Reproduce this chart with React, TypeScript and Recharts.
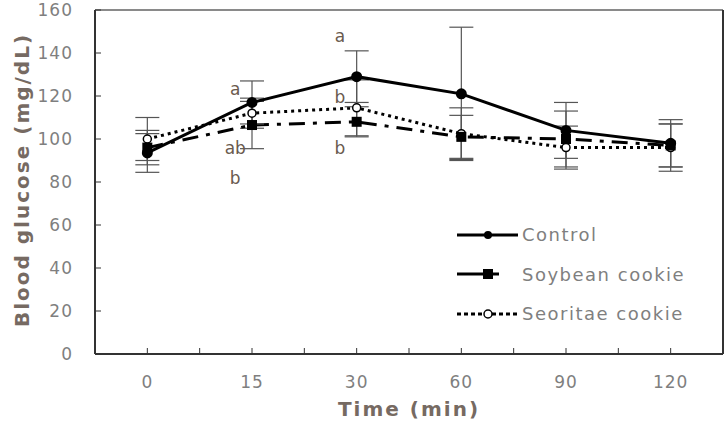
import React from "react"
import { LineChart, Line, XAxis, YAxis, ErrorBar, ReferenceLine, ReferenceDot } from "recharts"

const times = ["0", "15", "30", "60", "90", "120"]
const control = [93.5, 117, 129, 121, 104, 98]
const controlErr = [9, 10, 12, 31, 13, 11]
const soybean = [96, 106.5, 108, 101, 100, 97]
const soybeanErr = [8, 11, 7, 10, 13, 10]
const seoritae = [100, 112, 114.5, 102.5, 96, 96]
const seoritaeErr = [10, 7, 13, 12, 10, 11]
const yTicks = [0, 20, 40, 60, 80, 100, 120, 140, 160]

// significance letters: category index, value position, text
const letters = [
  { idx: 1, y: 123.5, text: "a" },
  { idx: 1, y: 96, text: "ab" },
  { idx: 1, y: 82, text: "b" },
  { idx: 2, y: 148, text: "a" },
  { idx: 2, y: 119.5, text: "b" },
  { idx: 2, y: 96, text: "b" },
]

const data = times.map((t, i) => ({
  x: i,
  time: t,
  control: control[i],
  controlErr: controlErr[i],
  soybean: soybean[i],
  soybeanErr: soybeanErr[i],
  seoritae: seoritae[i],
  seoritaeErr: seoritaeErr[i],
}))

// major ticks at categories, minor ticks halfway between
const xTicks = [-0.5, 0, 0.5, 1, 1.5, 2, 2.5, 3, 3.5, 4, 4.5, 5, 5.5].slice(1, 12)

const FONT = "'DejaVu Sans', Verdana, sans-serif"
const TICK_COLOR = "#7f7f7f"
const TITLE_COLOR = "#766a62"
const LETTER_COLOR = "#6a5a4e"

const XTick = ({ x, y, payload }: any) => {
  const v = payload.value
  const isMajor = Number.isInteger(v)
  return (
    <g>
      <line x1={x} x2={x} y1={y - 6} y2={y} stroke="#333" strokeWidth={1} />
      {isMajor && (
        <text x={x} y={y + 34} textAnchor="middle" fill={TICK_COLOR} fontSize={17} letterSpacing={1} fontFamily={FONT}>
          {times[v]}
        </text>
      )}
    </g>
  )
}

const YTick = ({ x, y, payload }: any) => (
  <g>
    <line x1={x} x2={x + 6} y1={y} y2={y} stroke="#333" strokeWidth={1} />
    <text x={x - 22} y={y + 6} textAnchor="end" fill={TICK_COLOR} fontSize={17} letterSpacing={1} fontFamily={FONT}>
      {payload.value}
    </text>
  </g>
)

const SquareDot = ({ cx, cy }: any) => <rect x={cx - 5} y={cy - 5} width={10} height={10} fill="#000" />

const LegendBox = () => {
  const rowStyle: React.CSSProperties = { display: "flex", alignItems: "center", height: 39.5 }
  const textStyle: React.CSSProperties = { fontFamily: FONT, fontSize: 18, letterSpacing: 1.5, color: TICK_COLOR }
  return (
    <div style={{ position: "absolute", left: 457, top: 215 }}>
      <div style={rowStyle}>
        <svg width={65} height={14}>
          <line x1={0} x2={61} y1={7} y2={7} stroke="#000" strokeWidth={3} />
          <circle cx={31} cy={7} r={4} fill="#000" />
        </svg>
        <span style={textStyle}>Control</span>
      </div>
      <div style={rowStyle}>
        <svg width={65} height={14}>
          <line x1={0} x2={26} y1={7} y2={7} stroke="#000" strokeWidth={3} />
          <rect x={26} y={2} width={10} height={10} fill="#000" />
          <line x1={36} x2={42} y1={7} y2={7} stroke="#000" strokeWidth={3} />
        </svg>
        <span style={textStyle}>Soybean cookie</span>
      </div>
      <div style={rowStyle}>
        <svg width={65} height={14}>
          <line x1={0} x2={61} y1={7} y2={7} stroke="#000" strokeWidth={3} strokeDasharray="4 3" />
          <circle cx={31} cy={7} r={4} fill="#fff" stroke="#000" strokeWidth={1.5} />
        </svg>
        <span style={textStyle}>Seoritae cookie</span>
      </div>
    </div>
  )
}

export default function App() {
  return (
    <div style={{ position: "relative", width: 728, height: 424, background: "#fff" }}>
      <style>{`body{margin:0}`}</style>
      <LineChart width={728} height={424} data={data} margin={{ top: 10, right: 5, bottom: 0, left: 0 }}>
        <XAxis
          dataKey="x"
          type="number"
          domain={[-0.5, 5.5]}
          ticks={xTicks}
          interval={0}
          height={70}
          tickSize={0}
          tickMargin={0}
          tickLine={false}
          tick={<XTick />}
          axisLine={{ stroke: "#333", strokeWidth: 2 }}
          allowDataOverflow
        />
        <YAxis
          type="number"
          domain={[0, 160]}
          ticks={yTicks}
          interval={0}
          width={95}
          tickSize={0}
          tickMargin={0}
          tickLine={false}
          tick={<YTick />}
          axisLine={{ stroke: "#333", strokeWidth: 2 }}
          allowDataOverflow
        />
        <ReferenceLine y={160} stroke="#8a8a8a" strokeWidth={2} />
        <ReferenceLine x={5.5} stroke="#333" strokeWidth={2} />
        <Line
          dataKey="seoritae"
          stroke="#000"
          strokeWidth={3}
          strokeDasharray="3 4"
          dot={{ r: 4, fill: "#fff", stroke: "#000", strokeWidth: 1.5, strokeDasharray: "" }}
          isAnimationActive={false}
        >
          <ErrorBar dataKey="seoritaeErr" direction="y" width={12} stroke="#555" strokeWidth={1.2} />
        </Line>
        <Line
          dataKey="soybean"
          stroke="#000"
          strokeWidth={3}
          strokeDasharray="16 8 4 8"
          dot={<SquareDot />}
          isAnimationActive={false}
        >
          <ErrorBar dataKey="soybeanErr" direction="y" width={12} stroke="#555" strokeWidth={1.2} />
        </Line>
        <Line
          dataKey="control"
          stroke="#000"
          strokeWidth={3}
          dot={{ r: 4, fill: "#000", stroke: "#000" }}
          isAnimationActive={false}
        >
          <ErrorBar dataKey="controlErr" direction="y" width={12} stroke="#555" strokeWidth={1.2} />
        </Line>
        {letters.map((l, i) => (
          <ReferenceDot
            key={i}
            x={l.idx - 0.16}
            y={l.y}
            r={0}
            stroke="none"
            label={{ value: l.text, position: "center", fill: LETTER_COLOR, fontSize: 17, fontFamily: FONT }}
          />
        ))}
      </LineChart>
      <LegendBox />
      <div
        style={{
          position: "absolute",
          left: 0,
          top: 397,
          width: 818,
          textAlign: "center",
          fontFamily: FONT,
          fontWeight: "bold",
          fontSize: 20,
          letterSpacing: 2,
          color: TITLE_COLOR,
        }}
      >
        Time (min)
      </div>
      <div
        style={{
          position: "absolute",
          left: 22,
          top: 180,
          transform: "translate(-50%, -50%) rotate(-90deg)",
          whiteSpace: "nowrap",
          fontFamily: FONT,
          fontWeight: "bold",
          fontSize: 20,
          letterSpacing: 2,
          color: TITLE_COLOR,
        }}
      >
        Blood glucose (mg/dL)
      </div>
    </div>
  )
}
